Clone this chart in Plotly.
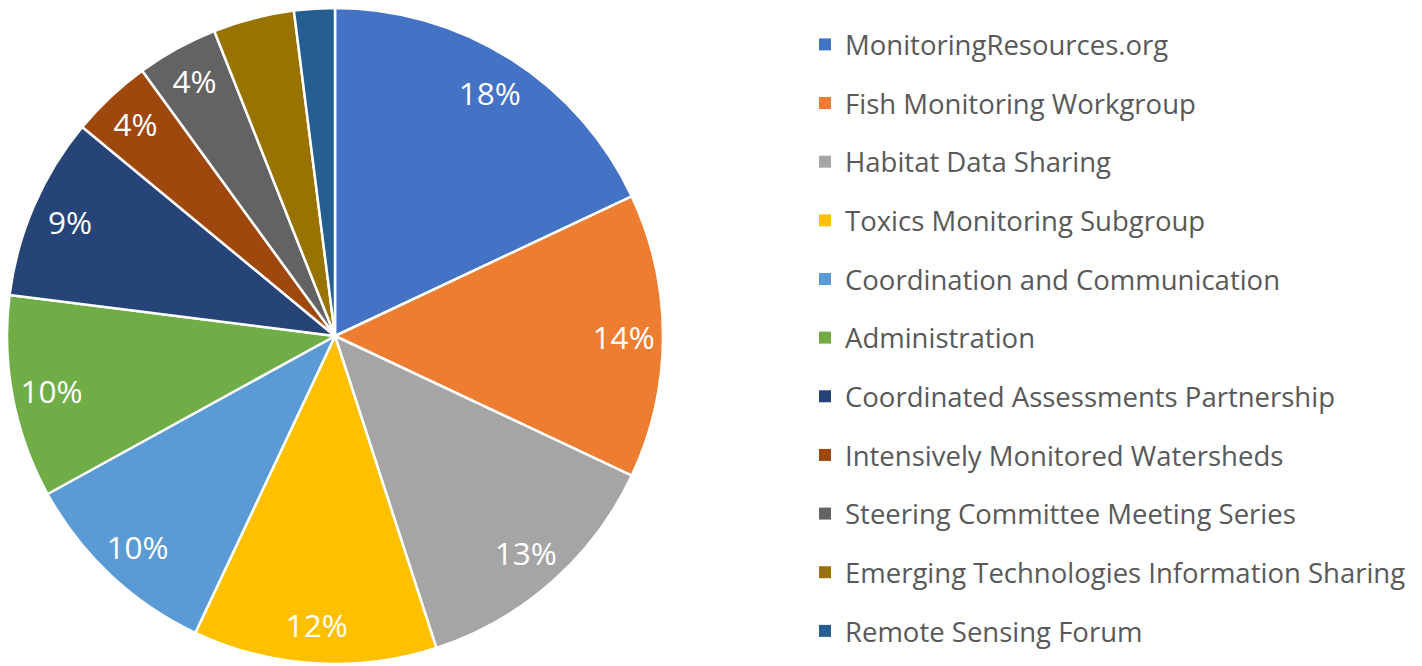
import plotly.graph_objects as go

labels = [
    "MonitoringResources.org",
    "Fish Monitoring Workgroup",
    "Habitat Data Sharing",
    "Toxics Monitoring Subgroup",
    "Coordination and Communication",
    "Administration",
    "Coordinated Assessments Partnership",
    "Intensively Monitored Watersheds",
    "Steering Committee Meeting Series",
    "Emerging Technologies Information Sharing",
    "Remote Sensing Forum",
]
values = [18, 14, 13, 12, 10, 10, 9, 4, 4, 4, 2]
colors = ["#4472C4", "#ED7D31", "#A5A5A5", "#FFC000", "#5B9BD5", "#70AD47",
          "#264478", "#9E480E", "#636363", "#997300", "#255E91"]
show_label = [True, True, True, True, True, True, True, True, True, False, False]

W, H = 1422, 666
dom_x = [7 / W, 663 / W]
dom_y = [1 / H, 659 / H]

fig = go.Figure()

# Main pie: slices
fig.add_trace(go.Pie(
    labels=labels, values=values, sort=False, direction="clockwise", rotation=0,
    marker=dict(colors=colors, line=dict(color="white", width=2.5)),
    textinfo="none", showlegend=False, domain=dict(x=dom_x, y=dom_y),
    hoverinfo="label+percent",
))

# Transparent ring carrying the percentage labels near the outer edge
fig.add_trace(go.Pie(
    labels=labels, values=values, sort=False, direction="clockwise", rotation=0,
    hole=0.76,
    marker=dict(colors=["rgba(0,0,0,0)"] * len(values), line=dict(width=0)),
    texttemplate=["%{percent:.0%}" if s else "" for s in show_label],
    textposition="inside", insidetextorientation="horizontal",
    insidetextfont=dict(color="white", size=31.5, family="Open Sans"),
    showlegend=False, domain=dict(x=dom_x, y=dom_y), hoverinfo="skip",
))

# Legend entries
for lab, col in zip(labels, colors):
    fig.add_trace(go.Scatter(
        x=[None], y=[None], mode="markers", name=lab, legendgroup=lab,
        marker=dict(symbol="square", size=12, color=col),
    ))

fig.update_layout(
    width=W, height=H,
    margin=dict(l=0, r=0, t=0, b=0),
    paper_bgcolor="white", plot_bgcolor="white",
    xaxis=dict(visible=False), yaxis=dict(visible=False),
    uniformtext=dict(minsize=31.5, mode="show"),
    legend=dict(
        x=805 / W, xanchor="left", y=1 - 20 / H, yanchor="top",
        font=dict(family="Open Sans", size=27.5, color="#595959"),
        tracegroupgap=19.9, bgcolor="rgba(0,0,0,0)",
    ),
)

fig.write_html("out.html", config={"displayModeBar": False},
               post_script="document.body.style.margin='0';")
